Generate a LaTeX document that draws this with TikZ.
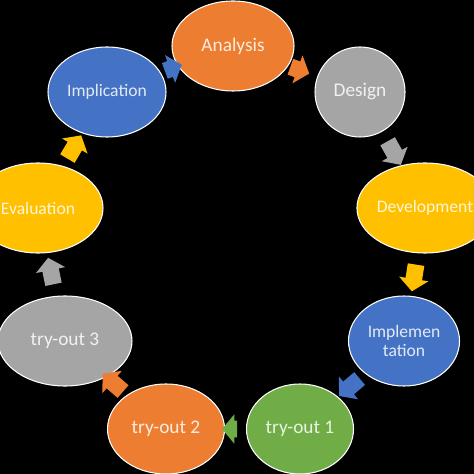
\documentclass[tikz,border=0pt]{standalone}
\usepackage{fontspec}
\setmainfont{Carlito}
\usepackage{xcolor}
\usepackage{tikz}
\usetikzlibrary{shapes.geometric,shapes.arrows}
\definecolor{cblue}{HTML}{4472C4}
\definecolor{corange}{HTML}{ED7D31}
\definecolor{cgray}{HTML}{A5A5A5}
\definecolor{cyellow}{HTML}{FFC000}
\definecolor{cgreen}{HTML}{70AD47}

\begin{document}
\begin{tikzpicture}[
		phase/.style={ellipse, draw=white, line width=0.6pt, fill=#1, text=white!85!#1,
			inner sep=0pt, align=center, minimum height=1.8cm,
			font=\fontsize{10}{11}\selectfont},
		big/.style={font=\fontsize{11}{13}\selectfont},
		blk/.style={single arrow, draw=none, fill=#1, inner xsep=0pt, inner ysep=0.16cm,
			single arrow head extend=0.13cm, single arrow tip angle=100,
			minimum height=0.54cm, sloped, allow upside down}
	]
		\useasboundingbox (0,0) rectangle (9.48,-9.48);
		\fill[black] (0,0) rectangle (9.48,-9.48);
		\clip (0,0) rectangle (9.48,-9.48);
		
		\node[phase=corange, big, minimum width=2.44cm] (ana) at (4.66,-0.92) {Analysis};
		\node[phase=cgray, big, minimum width=1.8cm] (des) at (7.2,-1.84) {Design};
		\node[phase=cyellow, minimum width=2.7cm] (dev) at (8.5,-4.16) {Development};
		\node[phase=cblue, minimum width=2.22cm] (imp) at (8.08,-6.82) {Implemen\\tation};
		\node[phase=cgreen, big, minimum width=2.14cm] (try1) at (6.0,-8.58) {try-out 1};
		\node[phase=corange, big, minimum width=2.34cm] (try2) at (3.32,-8.58) {try-out 2};
		\node[phase=cgray, big, minimum width=2.68cm] (try3) at (1.3,-6.82) {try-out 3};
		\node[phase=cyellow, minimum width=2.6cm] (eva) at (0.76,-4.16) {Evaluation};
		\node[phase=cblue, minimum width=2.36cm] (impl) at (2.14,-1.84) {Implication};
		
		\path (impl.center) -- node[blk=cblue, minimum height=0.36cm] {} (ana.center);
		\path (ana.center) -- node[blk=corange, minimum height=0.4cm] {} (des.center);
		\path (des.center) -- node[blk=cgray] {} (dev.center);
		\path (dev.center) -- node[blk=cyellow] {} (imp.center);
		\path (imp.center) -- node[blk=cblue] {} (try1.center);
		\path (try1.center) -- node[blk=cgreen, minimum height=0.3cm] {} (try2.center);
		\path (try2.center) -- node[blk=corange] {} (try3.center);
		\path (try3.center) -- node[blk=cgray] {} (eva.center);
		\path (eva.center) -- node[blk=cyellow] {} (impl.center);
	\end{tikzpicture}
\end{document}
